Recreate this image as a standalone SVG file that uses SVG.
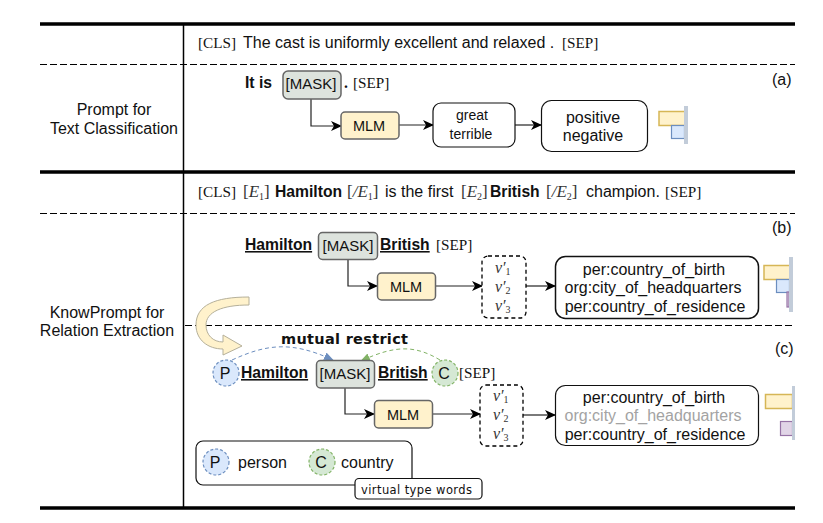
<svg xmlns="http://www.w3.org/2000/svg" width="823" height="523" viewBox="0 0 823 523">
<style>
text{font-family:"Liberation Sans",Arial,sans-serif;fill:#111;font-size:16px}
.s{font-family:"Liberation Serif","Times New Roman",serif;font-size:15.200px}
.m{font-family:"Liberation Serif","Times New Roman",serif;font-style:italic;font-size:17px;fill:#333}
.v{font-family:"Liberation Serif","Times New Roman",serif;font-style:italic;font-size:16px;fill:#333}
.sub{font-family:"Liberation Serif","Times New Roman",serif;font-size:10px;font-style:normal;fill:#333}
.n{font-style:normal}
.b{font-weight:bold;font-size:15.700px}
.c{text-anchor:middle}
.u{font-weight:bold;font-size:15.700px;text-decoration:underline}
.mk{font-size:15px}
.ml{font-size:14.500px}
.thick{stroke:#000;stroke-width:3.500;fill:none}
.dash{stroke:#000;stroke-width:1;stroke-dasharray:7 3;fill:none}
.mask{fill:#dde3dd;stroke:#666;stroke-width:1.500}
.mlm{fill:#fff2cc;stroke:#666;stroke-width:1.500}
.box{fill:#fff;stroke:#111;stroke-width:1.200}
.vbox{fill:#fff;stroke:#000;stroke-width:1.300;stroke-dasharray:4 3}
.conn{fill:none;stroke:#222;stroke-width:1.200;marker-end:url(#arr)}
.p{fill:#dae8fc;stroke:#6c8ebf;stroke-width:1.200;stroke-dasharray:3 2}
.g{fill:#d5e8d4;stroke:#82b366;stroke-width:1.200;stroke-dasharray:3 2}
.by{fill:#fff2cc;stroke:#d6b656;stroke-width:1.500}
.bb{fill:#dae8fc;stroke:#6c8ebf;stroke-width:1.200}
.bp{fill:#e1d5e7;stroke:#9673a6;stroke-width:1.200}
.ax{fill:#c2ccd9}
</style>
<defs>
<marker id="arr" markerWidth="12" markerHeight="10" refX="10" refY="5" orient="auto" markerUnits="userSpaceOnUse"><path d="M0 0L11 5L0 10L3 5Z" fill="#000"/></marker>
<marker id="ab" markerWidth="12" markerHeight="10" refX="9" refY="4" orient="auto" markerUnits="userSpaceOnUse"><path d="M0 0L10 4L0 8L0 4Z" fill="#6c8ebf"/></marker>
<marker id="ag" markerWidth="12" markerHeight="10" refX="9" refY="4" orient="auto" markerUnits="userSpaceOnUse"><path d="M0 0L10 4L0 8L0 4Z" fill="#82b366"/></marker>
</defs>
<g id="table">
<path class="thick" d="M40 24H795M40 172H795M40 508H795"/>
<path d="M183.500 24V508" stroke="#000" stroke-width="1.500" fill="none"/>
<path class="dash" d="M40 64.500H795M40 213.500H795M185 325.500H795"/>
</g>
<g id="row-labels">
<text class="c" x="114" y="115">Prompt for</text>
<text class="c" x="114" y="134">Text Classification</text>
<text class="c" x="107" y="318">KnowPrompt for</text>
<text class="c" x="107" y="336">Relation Extraction</text>
<text x="772" y="85">(a)</text>
<text x="772" y="233">(b)</text>
<text x="775" y="354">(c)</text>
</g>
<g id="sentence-1">
<text class="s" x="198" y="48">[CLS]</text>
<text x="243" y="48">The cast is uniformly excellent and relaxed .</text>
<text class="s" x="562" y="48">[SEP]</text>
</g>
<g id="sentence-2">
<text class="s" x="198" y="197">[CLS]</text>
<text class="m" x="243" y="197"><tspan class="n">[</tspan>E<tspan class="sub" dy="3">1</tspan><tspan class="n" dy="-3">]</tspan></text>
<text class="b" x="275" y="197">Hamilton</text>
<text class="m" x="347" y="197"><tspan class="n">[</tspan>/E<tspan class="sub" dy="3">1</tspan><tspan class="n" dy="-3">]</tspan></text>
<text x="385" y="197">is the first</text>
<text class="m" x="461" y="197"><tspan class="n">[</tspan>E<tspan class="sub" dy="3">2</tspan><tspan class="n" dy="-3">]</tspan></text>
<text class="b" x="490" y="197">British</text>
<text class="m" x="546" y="197"><tspan class="n">[</tspan>/E<tspan class="sub" dy="3">2</tspan><tspan class="n" dy="-3">]</tspan></text>
<text x="586" y="197">champion.</text>
<text class="s" x="665" y="197">[SEP]</text>
</g>
<g id="connectors">
<path class="conn" d="M311 99V126H341"/>
<path class="conn" d="M398 125H433"/>
<path class="conn" d="M515 125H541"/>
<path class="conn" d="M348 259V286H377"/>
<path class="conn" d="M435 286H482"/>
<path class="conn" d="M526 286H555"/>
<path class="conn" d="M345 388V414H374"/>
<path class="conn" d="M432 414H480"/>
<path class="conn" d="M523 415H555"/>
<path fill="none" stroke="#6c8ebf" stroke-width="1" stroke-dasharray="4 3" marker-end="url(#ab)" d="M232 360C265 345 290 340 333 360"/>
<path fill="none" stroke="#82b366" stroke-width="1" stroke-dasharray="4 3" marker-end="url(#ag)" d="M440 360C415 345 395 345 361 361"/>
</g>
<g id="curved-arrow">
<path d="M249 297C215 297 196 305 196 325C196 340 208 349 223 349L223 355L242 346L223 335L223 342C213 342 206 335 206 325C206 312 222 305 249 305Z" fill="#fff2cc" stroke="#b5b09a" stroke-width="1"/>
</g>
<g id="a-mask"><text class="b" x="245" y="88">It is</text><rect class="mask" x="283" y="71" width="58" height="28" rx="5"/><text class="c mk" x="311" y="89">[MASK]</text><text class="s b" x="344" y="88">.</text><text class="s" x="353" y="88">[SEP]</text></g>
<g id="a-mlm"><rect class="mlm" x="341" y="112" width="58" height="27" rx="4"/><text class="c ml" x="369" y="131">MLM</text></g>
<g id="a-words"><rect class="box" x="433" y="103" width="82" height="44" rx="8"/><text class="c" x="472" y="120" style="font-size:14px">great</text><text class="c" x="471" y="139" style="font-size:14px">terrible</text></g>
<g id="a-labels"><rect class="box" x="541.500" y="100.500" width="106" height="51" rx="10"/><text class="c" x="593" y="123">positive</text><text class="c" x="593" y="141">negative</text></g>
<g id="a-bars"><rect class="by" x="659" y="111.500" width="26" height="14"/><rect class="bb" x="671.500" y="125.500" width="13" height="13"/><rect class="ax" x="684" y="106" width="4" height="38"/></g>
<g id="b-prompt"><text class="u" x="245" y="250">Hamilton</text><rect class="mask" x="318.500" y="232.500" width="59" height="27" rx="4"/><text class="c mk" x="348" y="251">[MASK]</text><text class="u" x="380" y="250">British</text><text class="s" x="436" y="250">[SEP]</text></g>
<g id="b-mlm"><rect class="mlm" x="377.500" y="273" width="58" height="27" rx="4"/><text class="c ml" x="406" y="292">MLM</text></g>
<g id="b-vars"><rect class="vbox" x="482" y="256" width="44" height="62" rx="6"/><text class="v" x="495" y="273">v′<tspan class="sub" dy="2">1</tspan></text><text class="v" x="495" y="292">v′<tspan class="sub" dy="2">2</tspan></text><text class="v" x="495" y="311">v′<tspan class="sub" dy="2">3</tspan></text></g>
<g id="b-labels"><rect class="box" x="555.500" y="256.500" width="203" height="62" rx="10" style="stroke-width:1.500"/><text class="c" x="654" y="275">per:country_of_birth</text><text class="c" x="653" y="293">org:city_of_headquarters</text><text class="c" x="655" y="312">per:country_of_residence</text></g>
<g id="b-bars"><rect class="by" x="764" y="265.500" width="26" height="14"/><rect class="bb" x="776.500" y="279.500" width="13" height="13"/><rect class="bp" x="787" y="292" width="2" height="15"/><rect class="ax" x="789" y="257" width="4" height="55"/></g>
<g id="c-mutual"><text x="281" y="344" style="font-family:'DejaVu Sans',sans-serif;font-weight:bold;font-size:14.500px" textLength="127">mutual restrict</text></g>
<g id="c-prompt"><circle class="p" cx="226" cy="373" r="13"/><text class="c" x="225" y="379">P</text><text class="u" x="241" y="378">Hamilton</text><rect class="mask" x="316.500" y="360.500" width="58" height="27.500" rx="4"/><text class="c mk" x="345" y="379">[MASK]</text><text class="u" x="378" y="378">British</text><circle class="g" cx="445" cy="373" r="13"/><text class="c" x="444" y="379">C</text><text class="s" x="459" y="378">[SEP]</text></g>
<g id="c-mlm"><rect class="mlm" x="374.500" y="400.500" width="58" height="27.500" rx="4"/><text class="c ml" x="403" y="420">MLM</text></g>
<g id="c-vars"><rect class="vbox" x="480" y="385" width="43" height="61" rx="6"/><text class="v" x="493" y="401">v′<tspan class="sub" dy="2">1</tspan></text><text class="v" x="493" y="420">v′<tspan class="sub" dy="2">2</tspan></text><text class="v" x="493" y="439">v′<tspan class="sub" dy="2">3</tspan></text></g>
<g id="c-labels"><rect class="box" x="555.500" y="385.500" width="203" height="60" rx="10"/><text class="c" x="654" y="403">per:country_of_birth</text><text class="c" x="653" y="421" style="fill:#a3a3a3">org:city_of_headquarters</text><text class="c" x="655" y="440">per:country_of_residence</text></g>
<g id="c-bars"><rect class="by" x="765.500" y="394.500" width="27" height="14"/><rect class="bp" x="780.500" y="421.500" width="12" height="14"/><rect class="ax" x="792" y="386" width="3" height="54"/></g>
<g id="legend"><rect class="box" x="196" y="441" width="216" height="44" rx="7"/><circle class="p" cx="216" cy="462" r="13"/><text class="c" x="215" y="468">P</text><text x="238" y="468">person</text><circle class="g" cx="322" cy="462" r="13"/><text class="c" x="321" y="468">C</text><text x="341" y="468">country</text></g>
<g id="virtual"><rect class="box" x="355" y="478.500" width="127" height="20.500" rx="4"/><text x="361" y="494" style="font-family:'DejaVu Sans',sans-serif;font-size:11.500px" textLength="111">virtual type words</text></g>
</svg>
